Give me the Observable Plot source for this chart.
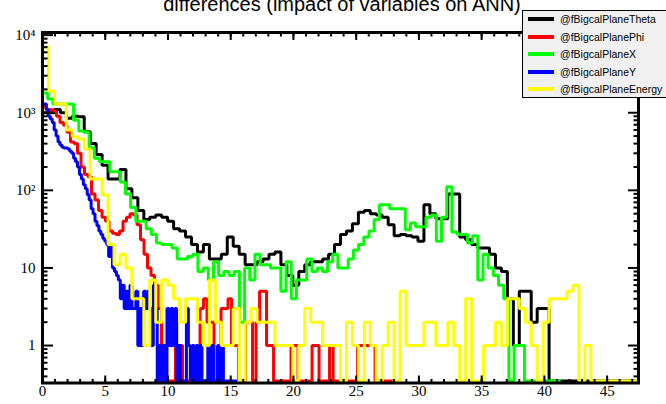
<!DOCTYPE html>
<html><head><meta charset="utf-8">
<script src="https://cdn.jsdelivr.net/npm/d3@7"></script>
<script src="https://cdn.jsdelivr.net/npm/@observablehq/plot@0.6"></script>
<style>
body{margin:0;background:#fff;}
#wrap{position:relative;width:666px;height:404px;overflow:hidden;background:#fff;}
#title{position:absolute;left:0;top:-6px;width:684px;text-align:center;font-family:"Liberation Sans",Arial,sans-serif;font-size:20px;line-height:20px;white-space:nowrap;color:#000;}
#legend{position:absolute;left:522px;top:10px;width:150px;height:88px;background:#f0f0f0;border:1px solid #000;box-sizing:border-box;}
.sw{position:absolute;left:5px;width:26px;height:4px;}
.lb{position:absolute;left:37px;font-family:"Liberation Sans",Arial,sans-serif;font-size:10.5px;line-height:12px;white-space:nowrap;color:#000;}
</style></head>
<body>
<div id="wrap">
  <div id="chart"></div>
  <div id="title"></div>
  <div id="legend"></div>
</div>
<script>
// ---- data: each histogram has 100 bins from 0 to its own upper edge ----
const titleText = "differences (impact of variables on ANN)";
const seriesNames = ["@fBigcalPlaneTheta","@fBigcalPlanePhi","@fBigcalPlaneX","@fBigcalPlaneY","@fBigcalPlaneEnergy"];
const seriesColors = ["#000000","#ff0000","#00ff00","#0000ff","#ffff00"];
const seriesRangeMax = [47.5, 27.9, 41.3, 15.5, 47.5];
const frameXMax = 47.5;
const xTicks = [0,5,10,15,20,25,30,35,40,45];
const yTicks = [1,10,100,1000,10000];
const yTickLabels = ["1","10","10\u00b2","10\u00b3","10\u2074"];

const theta = [1000,1000,1100,1000,850,900,890,570,400,290,
 210,140,140,185,105,80,55,42,45,48,
 45,40,32,30,25,20,16,20,13,13,
 15,25,19,15,11,11,12,13,15,16,
 11,8,6,9,11,12,12,13,15,20,
 27,30,37,52,55,50,48,45,36,26,
 27,26,25,22,65,50,43,43,90,90,
 25,23,20,18,18,15,10,9,4,1,
 5,5,2,3,3,0,0,0,0,0,
 0,0,0,0,0,0,0,0,0,0];
const phi = [1200,1100,1090,1050,900,750,690,560,420,400,
 300,200,160,150,90,75,55,45,40,30,
 28,27,30,40,45,50,48,36,23,15,
 10,8,6,3,1,0,0,0,1,1,
 0,0,0,0,0,3,4,2,2,0,
 0,3,3,4,1,1,0,0,2,2,
 0,2,5,5,1,1,0,0,0,0,
 0,1,1,0,0,0,0,1,1,0,
 0,0,1,0,0,0,0,0,0,0,
 1,1,1,1,1,0,0,0,0,0];
const planeX = [1800,1500,1300,1300,1300,1300,800,580,560,350,
 260,233,233,173,173,128,90,60,40,40,
 32,27,21,20,20,18,13,13,14,15,
 9,10,7,12,8,9,8,9,2,10,
 7,15,11,11,10,10,5,12,4,7,
 7,13,9,10,9,12,15,10,10,13,
 17,20,25,30,42,65,65,58,58,58,
 31,38,34,34,45,48,22,45,111,29,
 27,27,21,26,7,15,10,8,6,4,
 0,1,1,0,0,0,0,0,0,0];
const planeY = [1300,1300,1100,900,830,750,600,500,420,385,
 360,350,350,340,320,300,260,233,200,160,
 140,118,105,88,75,58,50,40,35,30,
 27,24,22,20,14,20,10,9,8,7,
 4,6,3,5,3,6,3,3,5,1,
 3,1,5,3,5,3,1,6,3,0,
 1,0,1,0,3,1,3,1,3,0,
 1,0,0,0,3,1,0,1,0,1,
 0,1,0,0,0,1,0,1,0,0,
 1,0,1,0,0,0,0,0,0,0];
const energy = [7000,1900,1300,1300,600,490,460,340,140,140,
 88,20,11,15,10,4,4,1,7,2,
 7,6,4,2,4,4,2,1,7,2,
 1,1,3,0,2,3,2,2,2,1,
 1,1,0,1,3,2,2,1,1,1,
 0,2,1,0,2,1,0,1,2,0,
 5,1,1,1,2,2,1,1,2,1,
 0,4,0,0,1,1,2,1,4,4,
 3,2,1,0,2,4,4,4,5,6,
 0,1,0,0,0,0,0,0,0,0];
const seriesValues = [theta, phi, planeX, planeY, energy];

// ---- build step outlines ----
const zeroLevel = 0.35;   // empty bins drawn at the bottom, as ROOT does on a log scale
function outline(vals, xmax){
  const bw = xmax / vals.length;
  const pts = [{x:0, y:zeroLevel}];
  vals.forEach((v,i)=>{ const y = v>0 ? v : zeroLevel; pts.push({x:i*bw, y}, {x:(i+1)*bw, y}); });
  pts.push({x:xmax, y:zeroLevel});
  return pts;
}

const yMinor = [];
[0.1,1,10,100,1000].forEach(d=>{ for(let k=2;k<=9;k++){ const v=d*k; if(v>0.33 && v<10800) yMinor.push(v);} });
const xMinor = d3.range(0, 48, 1);

const serif = "'Liberation Serif','Times New Roman',serif";
const noLabel = () => "";
const lines = seriesValues.map((vals,i)=> Plot.line(outline(vals, seriesRangeMax[i]), {x:"x", y:"y", stroke:seriesColors[i], strokeWidth:3, strokeLinejoin:"miter", strokeLinecap:"butt"}));
const tickStyle = {tickFormat:noLabel, label:null, strokeWidth:2, stroke:"#000"};

const chart = Plot.plot({
  width:666, height:404,
  marginLeft:42, marginRight:28, marginTop:32, marginBottom:21.5,
  x:{domain:[0,frameXMax], axis:null},
  y:{type:"log", domain:[0.329,10810], axis:null},
  style:{background:"transparent", overflow:"visible"},
  marks:[
    ...lines,
    Plot.frame({stroke:"#000", strokeWidth:3}),
    Plot.axisX({anchor:"bottom", ticks:xTicks, tickSize:7, dy:-7, ...tickStyle}),
    Plot.axisX({anchor:"bottom", ticks:xMinor, tickSize:3.5, dy:-3.5, ...tickStyle}),
    Plot.axisX({anchor:"top", ticks:xTicks, tickSize:7, dy:7, ...tickStyle}),
    Plot.axisX({anchor:"top", ticks:xMinor, tickSize:3.5, dy:3.5, ...tickStyle}),
    Plot.axisY({anchor:"left", ticks:yTicks, tickSize:11, dx:11, ...tickStyle}),
    Plot.axisY({anchor:"left", ticks:yMinor, tickSize:5.5, dx:5.5, ...tickStyle}),
    Plot.axisY({anchor:"right", ticks:yTicks, tickSize:11, dx:-11, ...tickStyle}),
    Plot.axisY({anchor:"right", ticks:yMinor, tickSize:5.5, dx:-5.5, ...tickStyle}),
    Plot.text(xTicks, {x:d=>d, frameAnchor:"bottom", dy:13, text:d=>String(d), fontSize:15, fontFamily:serif, fill:"#000"}),
    Plot.text(yTicks, {y:d=>d, frameAnchor:"left", dx:-7, textAnchor:"end", text:(d,i)=>yTickLabels[i], fontSize:15, fontFamily:serif, fill:"#000"})
  ]
});
document.getElementById("chart").appendChild(chart);
document.getElementById("title").textContent = titleText;

const legend = document.getElementById("legend");
const rowY = [8, 25.5, 43, 60.5, 78];
seriesNames.forEach((n,i)=>{
  const sw = document.createElement("div"); sw.className="sw"; sw.style.background=seriesColors[i]; sw.style.top=(rowY[i]-2)+"px"; legend.appendChild(sw);
  const lb = document.createElement("div"); lb.className="lb"; lb.textContent=n; lb.style.top=(rowY[i]-6)+"px"; legend.appendChild(lb);
});
</script>
</body></html>
